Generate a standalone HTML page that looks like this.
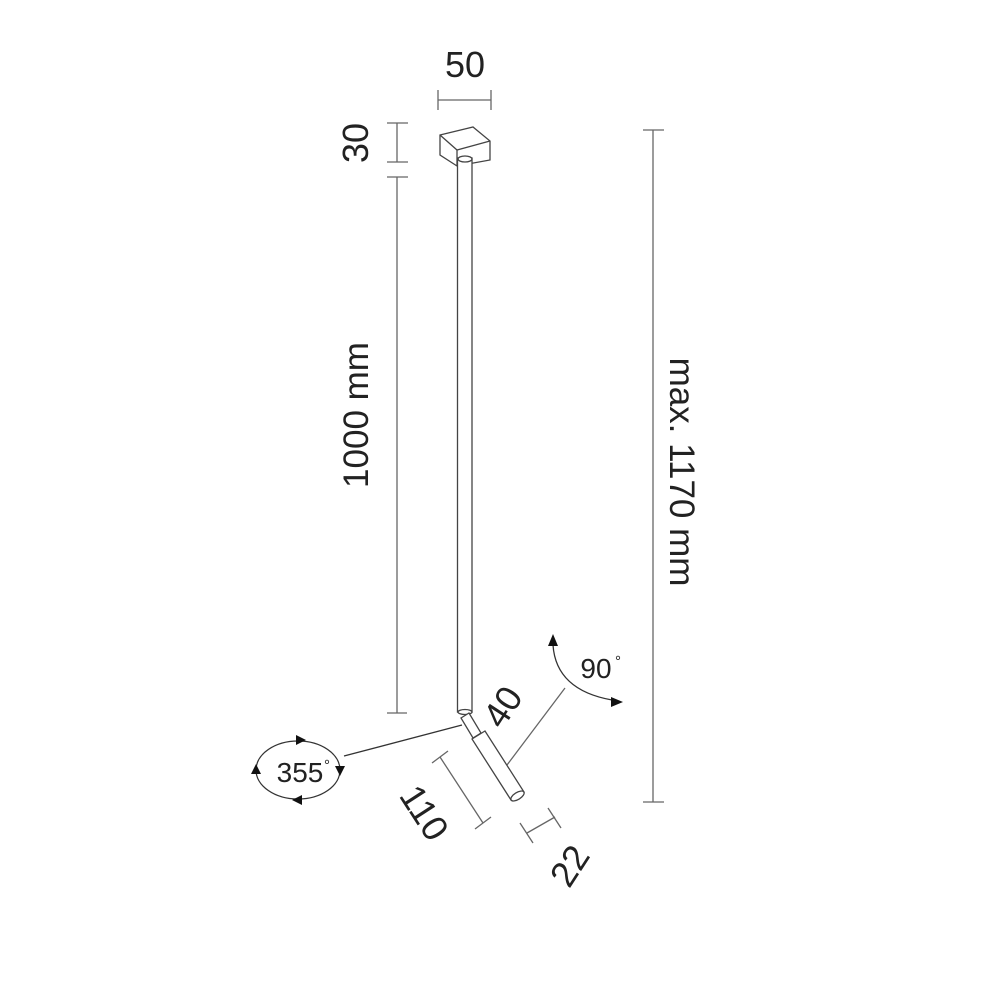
<!DOCTYPE html>
<html><head><meta charset="utf-8"><style>
html,body{margin:0;padding:0;background:#fff}
svg{display:block}
text{font-family:"Liberation Sans",sans-serif;fill:#222}
</style></head><body>
<svg width="998" height="1000" viewBox="0 0 998 1000" xmlns="http://www.w3.org/2000/svg">
<g stroke="#666" stroke-width="1.3" fill="none">
<line x1="438" y1="100" x2="491" y2="100"/>
<line x1="438" y1="90" x2="438" y2="110"/>
<line x1="491" y1="90" x2="491" y2="110"/>
<line x1="397" y1="123" x2="397" y2="162"/>
<line x1="387" y1="123" x2="408" y2="123"/>
<line x1="387" y1="162" x2="408" y2="162"/>
<line x1="387" y1="177" x2="408" y2="177"/>
<line x1="397" y1="177" x2="397" y2="713"/>
<line x1="387" y1="713" x2="407" y2="713"/>
<line x1="653" y1="130" x2="653" y2="802"/>
<line x1="643" y1="130" x2="664" y2="130"/>
<line x1="643" y1="802" x2="664" y2="802"/>
<line x1="440" y1="757" x2="483" y2="823"/>
<line x1="432" y1="763" x2="448" y2="751"/>
<line x1="475" y1="829" x2="491" y2="817"/>
<line x1="527" y1="833" x2="555" y2="817"/>
<line x1="520" y1="823" x2="533" y2="843"/>
<line x1="548" y1="808" x2="561" y2="828"/>
<line x1="344" y1="756" x2="462" y2="725" stroke="#333"/>
<line x1="565" y1="688" x2="507" y2="765"/>
</g>
<g stroke="#444" stroke-width="1.3" fill="#fff">
<polygon points="440,135 473,127 490,141 490,160 457,166 440,155"/>
<polyline points="440,135 457,150 490,141" fill="none"/>
<line x1="457" y1="150" x2="457" y2="166"/>
<rect x="457.5" y="158" width="14.5" height="554"/>
<ellipse cx="465" cy="159" rx="7" ry="3"/>
<ellipse cx="465" cy="712" rx="7" ry="2.5"/>
<polygon points="461,718 469,713 481,733 473,738"/>
<polygon points="472,739 485,731 524,792 511,800"/>
<ellipse cx="517.5" cy="796" rx="7.5" ry="3.5" transform="rotate(-32 517.5 796)"/>
</g>
<ellipse cx="298" cy="770" rx="42" ry="29" fill="none" stroke="#333" stroke-width="1.3"/>
<g fill="#111">
<polygon points="306,740 296,735 296,745"/>
<polygon points="340,776 335,766 345,766"/>
<polygon points="292,800 302,795 302,805"/>
<polygon points="256,764 251,774 261,774"/>
</g>
<path d="M553,645 Q556,690 612,700" fill="none" stroke="#333" stroke-width="1.3"/>
<polygon points="553,634 548,646 558,646" fill="#111"/>
<polygon points="623,702 611,697 611,707" fill="#111"/>
<text x="465" y="77" font-size="36" text-anchor="middle">50</text>
<text transform="translate(368,143) rotate(-90)" font-size="36" text-anchor="middle">30</text>
<text transform="translate(368,415) rotate(-90)" font-size="35" text-anchor="middle">1000 mm</text>
<text transform="translate(670,472) rotate(90)" font-size="35" text-anchor="middle">max. 1170 mm</text>
<text x="596" y="678" font-size="28" text-anchor="middle">90</text>
<text x="615" y="666" font-size="15">°</text>
<text x="300" y="782" font-size="28" text-anchor="middle">355</text>
<text x="324" y="770" font-size="15">°</text>
<text transform="translate(503,707) rotate(-57)" font-size="36" text-anchor="middle" dy="12">40</text>
<text transform="translate(424,813) rotate(57)" font-size="36" text-anchor="middle" dy="12">110</text>
<text transform="translate(570,866) rotate(-57)" font-size="36" text-anchor="middle" dy="12">22</text>
</svg>
</body></html>
